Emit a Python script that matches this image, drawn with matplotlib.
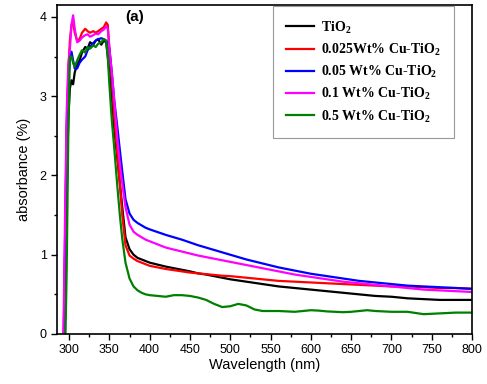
import matplotlib
matplotlib.use("Agg")
import matplotlib.pyplot as plt
from matplotlib.ticker import MultipleLocator

plt.rcParams['font.family'] = ['Liberation Sans', 'DejaVu Sans']
plt.rcParams['mathtext.fontset'] = 'custom'
plt.rcParams['mathtext.rm'] = 'Liberation Serif:bold'
plt.rcParams['mathtext.bf'] = 'Liberation Serif:bold'

# --- 波長 (nm) ---
wl_uv = [290, 293, 295, 297, 299, 301, 303, 305, 307, 310, 313, 316, 320, 323, 326,
         330, 333, 336, 340, 343, 346, 348, 350, 353, 356, 360, 363, 366, 370, 375,
         380, 385, 390, 395]
wl_vis = list(range(400, 801, 10))
wavelength = wl_uv + wl_vis

# --- 吸收度 ---
tio2 = [-1, -0.5, 0.5, 1.8, 2.7, 3.1, 3.2, 3.15, 3.3, 3.4, 3.45, 3.55, 3.62, 3.6, 3.68,
        3.65, 3.7, 3.72, 3.65, 3.7, 3.68, 3.5, 3.3, 3.0, 2.6, 2.2, 1.9, 1.6, 1.22, 1.07,
        1.0, 0.96, 0.94, 0.92,
        0.90, 0.875, 0.85, 0.83, 0.81, 0.79, 0.765, 0.75, 0.73, 0.71, 0.69, 0.675, 0.66,
        0.645, 0.63, 0.615, 0.60, 0.59, 0.58, 0.57, 0.56, 0.55, 0.54, 0.53, 0.52, 0.51,
        0.50, 0.49, 0.48, 0.475, 0.47, 0.46, 0.45, 0.445, 0.44, 0.435, 0.43, 0.43, 0.43,
        0.43, 0.43]
cu_0025 = [-1, -0.2, 1.0, 2.5, 3.3, 3.7, 3.9, 3.95, 3.8, 3.7, 3.72, 3.8, 3.85, 3.82, 3.8,
           3.82, 3.8, 3.82, 3.85, 3.87, 3.93, 3.9, 3.6, 3.2, 2.75, 2.25, 1.9, 1.5, 1.12, 0.99,
           0.95, 0.92, 0.9, 0.88,
           0.86, 0.84, 0.82, 0.805, 0.79, 0.775, 0.765, 0.755, 0.745, 0.735, 0.73, 0.72, 0.71,
           0.70, 0.69, 0.68, 0.67, 0.665, 0.66, 0.655, 0.65, 0.645, 0.64, 0.635, 0.63, 0.625,
           0.62, 0.615, 0.61, 0.605, 0.60, 0.60, 0.60, 0.595, 0.59, 0.585, 0.58, 0.58, 0.58,
           0.575, 0.57]
cu_005 = [-1, -0.3, 1.2, 2.6, 3.2, 3.45, 3.56, 3.45, 3.35, 3.35, 3.42, 3.46, 3.5, 3.58, 3.62,
          3.67, 3.7, 3.72, 3.73, 3.72, 3.7, 3.68, 3.6, 3.3, 2.95, 2.6, 2.32, 2.05, 1.7, 1.52,
          1.44, 1.4, 1.37, 1.34,
          1.32, 1.285, 1.25, 1.22, 1.19, 1.155, 1.12, 1.09, 1.06, 1.03, 1.00, 0.97, 0.94,
          0.915, 0.89, 0.865, 0.84, 0.82, 0.80, 0.78, 0.76, 0.745, 0.73, 0.715, 0.70, 0.685,
          0.67, 0.66, 0.65, 0.64, 0.63, 0.62, 0.61, 0.605, 0.60, 0.595, 0.59, 0.585, 0.58,
          0.575, 0.57]
cu_01 = [-1, 0.0, 1.5, 2.8, 3.4, 3.6, 3.9, 4.02, 3.85, 3.68, 3.7, 3.74, 3.77, 3.78, 3.75,
         3.77, 3.79, 3.78, 3.82, 3.84, 3.88, 3.85, 3.6, 3.3, 2.95, 2.45, 2.15, 1.9, 1.6, 1.38,
         1.29, 1.25, 1.22, 1.19,
         1.17, 1.13, 1.09, 1.065, 1.04, 1.015, 0.99, 0.97, 0.95, 0.93, 0.91, 0.89, 0.87,
         0.85, 0.83, 0.81, 0.79, 0.77, 0.75, 0.735, 0.72, 0.705, 0.69, 0.675, 0.66, 0.65,
         0.64, 0.63, 0.62, 0.61, 0.60, 0.59, 0.58, 0.57, 0.56, 0.555, 0.55, 0.545, 0.54,
         0.535, 0.53]
cu_05 = [-1, -0.8, -0.3, 0.8, 2.5, 3.5, 3.5, 3.42, 3.37, 3.45, 3.52, 3.58, 3.55, 3.62, 3.6,
         3.64, 3.62, 3.66, 3.68, 3.72, 3.7, 3.5, 3.15, 2.7, 2.35, 1.85, 1.5, 1.2, 0.9, 0.7,
         0.6, 0.55, 0.52, 0.5,
         0.49, 0.48, 0.47, 0.49, 0.49, 0.48, 0.46, 0.43, 0.38, 0.34, 0.35, 0.38, 0.36,
         0.31, 0.29, 0.29, 0.29, 0.285, 0.28, 0.29, 0.30, 0.295, 0.285, 0.28, 0.275, 0.28,
         0.29, 0.30, 0.29, 0.285, 0.28, 0.28, 0.28, 0.265, 0.25, 0.255, 0.26, 0.265, 0.27,
         0.27, 0.27]

series = [
    (tio2, r'TiO$_2$', 'black'),
    (cu_0025, r'0.025Wt% Cu-TiO$_2$', 'red'),
    (cu_005, r'0.05 Wt% Cu-TiO$_2$', 'blue'),
    (cu_01, r'0.1 Wt% Cu-TiO$_2$', 'magenta'),
    (cu_05, r'0.5 Wt% Cu-TiO$_2$', 'green'),
]

fig = plt.figure(figsize=(4.87, 3.84), dpi=100)
ax = fig.add_axes([57 / 487, 50 / 384, 415 / 487, 329 / 384])

for y, label, color in series:
    ax.plot(wavelength, y, color=color, lw=1.6, label=label)

ax.set_xlim(285, 800)
ax.set_ylim(0, 4.15)
ax.xaxis.set_major_locator(MultipleLocator(50))
ax.xaxis.set_minor_locator(MultipleLocator(25))
ax.yaxis.set_major_locator(MultipleLocator(1))
ax.yaxis.set_minor_locator(MultipleLocator(0.5))
ax.tick_params(which='both', direction='out', labelsize=9, width=1)
ax.tick_params(which='major', length=4)
ax.tick_params(which='minor', length=2.5)
for s in ax.spines.values():
    s.set_linewidth(1.2)

ax.set_xlabel('Wavelength (nm)', fontsize=10.5, labelpad=1)
ax.set_ylabel('absorbance (%)', fontsize=10.5, labelpad=6)

# 標示 (a)
ax.text(135 / 487, 1 - 17 / 384, '(a)', transform=fig.transFigure,
        fontsize=11, fontweight='bold', ha='center', va='center')

leg = ax.legend(loc='upper left', bbox_to_anchor=(273 / 487, 1 - 6 / 384),
                bbox_transform=fig.transFigure, fancybox=False, edgecolor='gray',
                prop={'family': 'Liberation Serif', 'weight': 'bold', 'size': 10},
                handlelength=2.0, labelspacing=0.42, borderpad=0.95, handletextpad=0.5,
                borderaxespad=0)
leg.get_frame().set_linewidth(0.8)

fig.savefig('out.png', dpi=100)
